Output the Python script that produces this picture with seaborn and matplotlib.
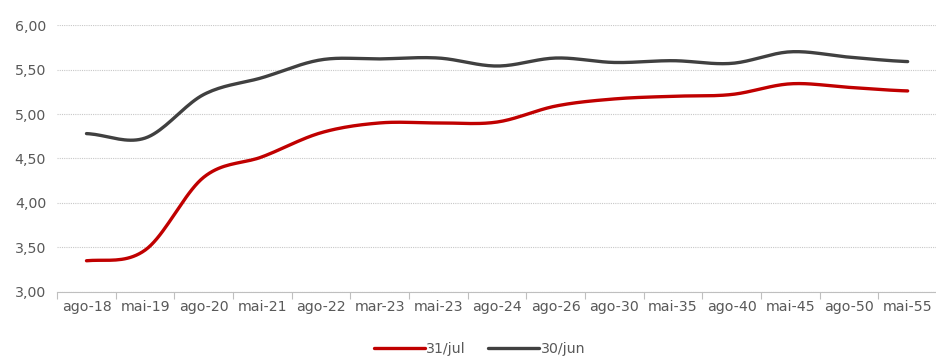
import numpy as np
import pandas as pd
import matplotlib
matplotlib.use("Agg")
import matplotlib.pyplot as plt
import seaborn as sns
from matplotlib.ticker import FuncFormatter, FixedLocator

categories = ["ago-18", "mai-19", "ago-20", "mai-21", "ago-22", "mar-23", "mai-23",
              "ago-24", "ago-26", "ago-30", "mai-35", "ago-40", "mai-45", "ago-50", "mai-55"]
jul31 = [3.35, 3.47, 4.29, 4.52, 4.79, 4.90, 4.90, 4.91, 5.09, 5.17, 5.20, 5.22, 5.34, 5.30, 5.26]
jun30 = [4.78, 4.73, 5.22, 5.41, 5.61, 5.62, 5.63, 5.54, 5.63, 5.58, 5.60, 5.57, 5.70, 5.64, 5.59]
series_names = ["31/jul", "30/jun"]
colors = ["#C00000", "#404040"]

def smooth(y, n=20):
    # Catmull-Rom rendering of the series (display smoothing only)
    y = np.asarray(y, float)
    p = np.concatenate([[y[0]], y, [y[-1]]])
    xs, ys = [], []
    for i in range(len(y) - 1):
        p0, p1, p2, p3 = p[i], p[i+1], p[i+2], p[i+3]
        t = np.linspace(0, 1, n, endpoint=False)
        v = 0.5 * ((2*p1) + (-p0 + p2)*t + (2*p0 - 5*p1 + 4*p2 - p3)*t**2 + (-p0 + 3*p1 - 3*p2 + p3)*t**3)
        xs.append(i + t); ys.append(v)
    xs.append([len(y) - 1]); ys.append([y[-1]])
    return np.concatenate(xs), np.concatenate(ys)

frames = []
for name, vals in zip(series_names, [jul31, jun30]):
    sx, sy = smooth(vals)
    frames.append(pd.DataFrame({"x": sx, "y": sy, "serie": name}))
df = pd.concat(frames, ignore_index=True)

sns.set_theme(style="white")
plt.rcParams['font.family'] = ['DejaVu Sans']

fig = plt.figure(figsize=(9.37, 3.59), dpi=100)
ax = fig.add_axes([0.061, 0.187, 0.939, 0.743])

sns.lineplot(data=df, x="x", y="y", hue="serie", palette=colors, linewidth=2.4,
             ax=ax, sort=False, estimator=None, legend=True)

ax.set_xlim(-0.5, len(categories) - 0.5)
ax.set_ylim(3.0, 6.0)
ax.set_yticks(np.arange(3.0, 6.01, 0.5))
ax.yaxis.set_major_formatter(FuncFormatter(lambda v, p: f"{v:.2f}".replace(".", ",")))
ax.set_xticks(range(len(categories)))
ax.set_xticklabels(categories)
ax.xaxis.set_minor_locator(FixedLocator(np.arange(-0.5, len(categories), 1.0)))
ax.tick_params(axis="x", which="major", length=0, pad=6, labelsize=10.2, labelcolor="#595959")
ax.tick_params(axis="x", which="minor", length=5, width=0.8, color="#BFBFBF", bottom=True)
ax.tick_params(axis="y", length=0, pad=8, labelsize=10.2, labelcolor="#595959")
ax.set_xlabel(""); ax.set_ylabel("")

ax.grid(axis="y", color="#C8C8C8", linestyle=(0, (1, 1)), linewidth=0.8)
ax.set_axisbelow(True)
for s in ["left", "right", "top"]:
    ax.spines[s].set_visible(False)
ax.spines["bottom"].set_color("#BFBFBF")
ax.spines["bottom"].set_linewidth(0.8)

leg = ax.legend(loc="center", bbox_to_anchor=(0.48, -0.215), ncol=2, frameon=False,
                handlelength=3.6, columnspacing=1.6, handletextpad=0.1, fontsize=10.2)
for t in leg.get_texts():
    t.set_color("#595959")

fig.savefig("out.png", dpi=100, facecolor="white")
